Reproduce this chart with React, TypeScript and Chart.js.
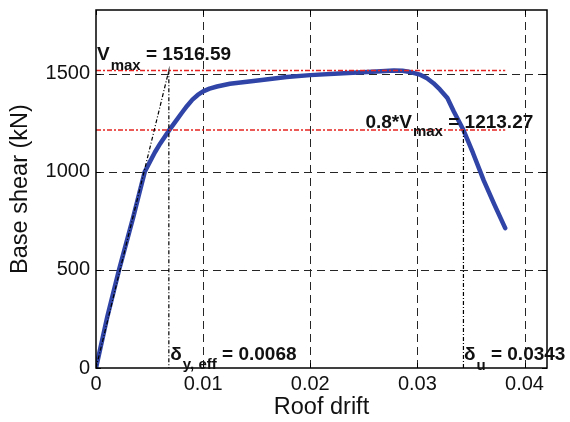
import React, { useEffect, useRef } from "react";
import { Chart, registerables } from "chart.js";

Chart.register(...registerables);

// ---- data ----
const driftValues = [
  0, 0.00106, 0.00215, 0.00349, 0.004, 0.00455, 0.005, 0.0055, 0.006, 0.0068,
  0.0075, 0.008, 0.0085, 0.009, 0.0095, 0.01, 0.0106, 0.0113, 0.0125, 0.0147,
  0.0178, 0.02, 0.0231, 0.0262, 0.0278, 0.0286, 0.0292, 0.0298, 0.0303, 0.0309,
  0.0315, 0.0321, 0.0328, 0.0334, 0.0343, 0.0352, 0.0362, 0.0372, 0.0382,
];
const shearValues = [
  0, 262, 500, 772, 882, 1000, 1048, 1100, 1145, 1210,
  1262, 1300, 1336, 1368, 1392, 1410, 1424, 1435, 1449, 1463,
  1483, 1493, 1503, 1512, 1516, 1515, 1510, 1502, 1494, 1477,
  1452, 1420, 1376, 1308, 1213, 1095, 955, 832, 713,
];

const xTickValues = [0, 0.01, 0.02, 0.03, 0.04];
const xTickLabels = ["0", "0.01", "0.02", "0.03", "0.04"];
const yTickValues = [0, 500, 1000, 1500];
const yTickLabels = ["0", "500", "1000", "1500"];

const vMax = 1516.59;
const vMax80 = 1213.27;
const deltaYEff = 0.0068;
const deltaU = 0.0343;
const driftEnd = 0.0382;

const xMin = 0;
const xMax = 0.0421;
const yMin = 0;
const yMax = 1825;

const xTitle = "Roof drift";
const yTitle = "Base shear (kN)";

const labelVmax = { main: "V", sub: "max", rest: " = 1516.59" };
const labelV80 = { main: "0.8*V", sub: "max", rest: " = 1213.27" };
const labelDy = { main: "δ", sub: "y, eff", rest: " = 0.0068" };
const labelDu = { main: "δ", sub: "u", rest: " = 0.0343" };

const FAMILY = "'Liberation Sans', Arial, Helvetica, sans-serif";

function drawLabel(
  ctx: CanvasRenderingContext2D,
  x0: number,
  baseY: number,
  lab: { main: string; sub: string; rest: string },
  subDy: number
) {
  ctx.fillStyle = "#111";
  ctx.textBaseline = "alphabetic";
  ctx.textAlign = "left";
  ctx.font = `bold 19px ${FAMILY}`;
  ctx.fillText(lab.main, x0, baseY);
  let cx = x0 + ctx.measureText(lab.main).width + 1;
  ctx.font = `bold 15px ${FAMILY}`;
  ctx.fillText(lab.sub, cx, baseY + subDy);
  cx += ctx.measureText(lab.sub).width;
  ctx.font = `bold 19px ${FAMILY}`;
  ctx.fillText(lab.rest, cx, baseY);
}

const overlayPlugin = {
  id: "overlay",
  beforeDatasetsDraw(chart: any) {
    const { ctx, chartArea, scales } = chart;
    const { left, right, top, bottom } = chartArea;
    const xs = scales.x;
    const ys = scales.y;
    ctx.save();
    ctx.strokeStyle = "#262626";
    ctx.lineWidth = 1;
    ctx.setLineDash([8, 5]);
    xTickValues.forEach((v) => {
      if (v === xMin) return;
      const px = Math.round(xs.getPixelForValue(v)) + 0.5;
      ctx.beginPath();
      ctx.moveTo(px, bottom);
      ctx.lineTo(px, top);
      ctx.stroke();
    });
    yTickValues.forEach((v) => {
      if (v === yMin) return;
      const py = Math.round(ys.getPixelForValue(v)) + 0.5;
      ctx.beginPath();
      ctx.moveTo(left, py);
      ctx.lineTo(right, py);
      ctx.stroke();
    });
    ctx.restore();
  },
  afterDatasetsDraw(chart: any) {
    const { ctx, chartArea, scales } = chart;
    const { left, right, top, bottom } = chartArea;
    const xs = scales.x;
    const ys = scales.y;
    ctx.save();
    // box
    ctx.setLineDash([]);
    ctx.strokeStyle = "#000";
    ctx.lineWidth = 1.5;
    ctx.strokeRect(left, top, right - left, bottom - top);
    // inward ticks
    ctx.lineWidth = 1;
    const tl = 5;
    xTickValues.forEach((v) => {
      const px = Math.round(xs.getPixelForValue(v)) + 0.5;
      ctx.beginPath();
      ctx.moveTo(px, bottom);
      ctx.lineTo(px, bottom - tl);
      ctx.moveTo(px, top);
      ctx.lineTo(px, top + tl);
      ctx.stroke();
    });
    yTickValues.forEach((v) => {
      const py = Math.round(ys.getPixelForValue(v)) + 0.5;
      ctx.beginPath();
      ctx.moveTo(left, py);
      ctx.lineTo(left + tl, py);
      ctx.moveTo(right, py);
      ctx.lineTo(right - tl, py);
      ctx.stroke();
    });
    // annotations
    drawLabel(ctx, xs.getPixelForValue(0) + 1, ys.getPixelForValue(vMax) - 10.5, labelVmax, 10);
    drawLabel(ctx, xs.getPixelForValue(deltaU) - 98, ys.getPixelForValue(vMax80) - 2, labelV80, 8.5);
    drawLabel(ctx, xs.getPixelForValue(deltaYEff) + 1.5, ys.getPixelForValue(0) - 8.5, labelDy, 9.5);
    drawLabel(ctx, xs.getPixelForValue(deltaU) + 0.5, ys.getPixelForValue(0) - 8, labelDu, 10);
    ctx.restore();
  },
};

export default function App() {
  const canvasRef = useRef<HTMLCanvasElement | null>(null);

  useEffect(() => {
    document.body.style.margin = "0";
    const canvas = canvasRef.current;
    if (!canvas) return;

    const curve = driftValues.map((d, i) => ({ x: d, y: shearValues[i] }));
    const vmaxLine = [
      { x: 0, y: vMax },
      { x: driftEnd, y: vMax },
    ];
    const v80Line = [
      { x: 0, y: vMax80 },
      { x: driftEnd, y: vMax80 },
    ];
    const bilinear = [
      { x: 0, y: 0 },
      { x: deltaYEff, y: vMax },
      { x: deltaYEff, y: 0 },
    ];
    const ultimate = [
      { x: deltaU, y: vMax80 },
      { x: deltaU, y: 0 },
    ];

    const chart = new Chart(canvas, {
      type: "scatter",
      data: {
        datasets: [
          {
            data: curve,
            showLine: true,
            borderColor: "#2f44a6",
            borderWidth: 4.5,
            pointRadius: 0,
            tension: 0,
            borderJoinStyle: "round",
            borderCapStyle: "round",
            order: 10,
          } as any,
          {
            data: vmaxLine,
            showLine: true,
            borderColor: "#e52421",
            borderWidth: 1.5,
            borderDash: [5, 2, 2, 2],
            pointRadius: 0,
            order: 2,
          },
          {
            data: v80Line,
            showLine: true,
            borderColor: "#e52421",
            borderWidth: 1.5,
            borderDash: [5, 2, 2, 2],
            pointRadius: 0,
            order: 2,
          },
          {
            data: bilinear,
            showLine: true,
            borderColor: "#000",
            borderWidth: 1.2,
            borderDash: [4, 2, 1, 2],
            pointRadius: 0,
            order: 1,
          },
          {
            data: ultimate,
            showLine: true,
            borderColor: "#000",
            borderWidth: 1.2,
            borderDash: [4, 2, 1, 2],
            pointRadius: 0,
            order: 1,
          },
        ],
      },
      options: {
        animation: false,
        responsive: false,
        devicePixelRatio: 1,
        layout: { padding: { top: 10, right: 23, left: 0, bottom: 0 } },
        plugins: {
          legend: { display: false },
          tooltip: { enabled: false },
        },
        scales: {
          x: {
            type: "linear",
            min: xMin,
            max: xMax,
            afterBuildTicks: (s: any) => {
              s.ticks = xTickValues.map((v) => ({ value: v }));
            },
            afterFit: (s: any) => {
              s.height = 54;
              s.paddingLeft = 0;
              s.paddingRight = 0;
            },
            grid: { display: false, drawTicks: false },
            border: { display: false },
            ticks: {
              padding: 4,
              color: "#111",
              autoSkip: false,
              maxRotation: 0,
              font: { family: FAMILY, size: 20 },
              callback: (v: any) => xTickLabels[xTickValues.indexOf(Number(v))] ?? "",
            },
            title: {
              display: true,
              text: xTitle,
              color: "#111",
              font: { family: FAMILY, size: 23.5 },
              padding: { top: 0, bottom: 0 },
            },
          },
          y: {
            type: "linear",
            min: yMin,
            max: yMax,
            afterBuildTicks: (s: any) => {
              s.ticks = yTickValues.map((v) => ({ value: v }));
            },
            afterFit: (s: any) => {
              s.width = 96;
              s.paddingTop = 0;
              s.paddingBottom = 0;
            },
            grid: { display: false, drawTicks: false },
            border: { display: false },
            ticks: {
              padding: 6,
              color: "#111",
              autoSkip: false,
              font: { family: FAMILY, size: 20 },
              callback: (v: any) => yTickLabels[yTickValues.indexOf(Number(v))] ?? "",
            },
            title: {
              display: true,
              text: yTitle,
              color: "#111",
              font: { family: FAMILY, size: 23.5 },
              padding: { top: 6, bottom: 0 },
            },
          },
        },
      } as any,
      plugins: [overlayPlugin],
    });

    return () => {
      chart.destroy();
    };
  }, []);

  return (
    <div style={{ width: 570, height: 422 }}>
      <canvas ref={canvasRef} width={570} height={422} style={{ display: "block" }} />
    </div>
  );
}
